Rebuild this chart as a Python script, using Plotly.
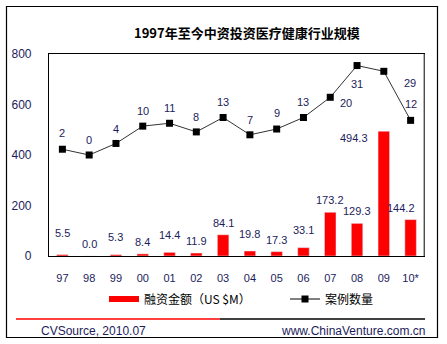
import plotly.graph_objects as go

# ---- data ----
years = ["97", "98", "99", "00", "01", "02", "03", "04", "05", "06", "07", "08", "09", "10*"]
amount = [5.5, 0.0, 5.3, 8.4, 14.4, 11.9, 84.1, 19.8, 17.3, 33.1, 173.2, 129.3, 494.3, 144.2]
cases = [2, 0, 4, 10, 11, 8, 13, 7, 9, 13, 20, 31, 29, 12]
y_ticks = [0, 200, 400, 600, 800]

# label offsets (pixels) for readability, as in the original
bar_lbl_dx = [0, 0, 0, 0, 0, 0, 0, 0, 0, 0, 0, 0, -30, -10]
bar_lbl_dy = [22, 12, 18, 12, 17, 12, 12, 17, 12, 18, 12, 12, -7, 12]
line_lbl_dx = [0, 0, 0, 0, 0, 0, 0, 0, 0, 0, 16, 0, 26, 0]
line_lbl_dy = [16, 15, 14, 15, 15, 15, 15, 15, 16, 15, -6, -18, -12, 16]

W, H = 447, 344
ML, MR, MT, MB = 49, 23, 54, 88
PW, PH = W - ML - MR, H - MT - MB


def px(x):
    return (x - ML) / PW


def py(y):
    return (H - MB - y) / PH


TXT = "#1c1c5c"
FONT = "Liberation Sans, Arial, Noto Sans CJK SC, sans-serif"
CJK = "Noto Sans CJK SC, sans-serif"

fig = go.Figure()
fig.add_trace(go.Bar(x=years, y=amount, marker_color="#ff0000", width=0.43,
                     showlegend=False, yaxis="y"))
fig.add_trace(go.Scatter(x=years, y=cases, mode="lines+markers", yaxis="y2",
                         line=dict(color="#333333", width=1),
                         marker=dict(symbol="square", size=7, color="#000000"),
                         showlegend=False))
# legend entries
fig.add_trace(go.Scatter(x=[years[0]], y=[None], mode="lines", name="融资金额（US $M）",
                         line=dict(color="#ff0000", width=6), legend="legend"))
fig.add_trace(go.Scatter(x=[years[0]], y=[None], mode="lines+markers", name="案例数量",
                         line=dict(color="#000000", width=1),
                         marker=dict(symbol="square", size=7, color="#000000"),
                         legend="legend2"))

annotations = []
for i, v in enumerate(amount):
    annotations.append(dict(x=i, y=v, xref="x", yref="y", text=f"{v:.1f}", showarrow=False,
                            xshift=bar_lbl_dx[i], yshift=bar_lbl_dy[i],
                            font=dict(size=11, color=TXT, family=FONT)))
for i, v in enumerate(cases):
    annotations.append(dict(x=i, y=v, xref="x", yref="y2", text=str(v), showarrow=False,
                            xshift=line_lbl_dx[i], yshift=line_lbl_dy[i],
                            font=dict(size=11, color=TXT, family=FONT)))
annotations.append(dict(x=px(247), y=py(33), xref="paper", yref="paper",
                        xanchor="center", yanchor="middle",
                        text="<b>1997年至今中资投资医疗健康行业规模</b>", showarrow=False,
                        font=dict(size=13, color="#000000", family=CJK)))
annotations.append(dict(x=px(39), y=py(331), xref="paper", yref="paper",
                        xanchor="left", yanchor="middle",
                        text="CVSource, 2010.07", showarrow=False,
                        font=dict(size=12, color=TXT, family=FONT)))
annotations.append(dict(x=px(427), y=py(331), xref="paper", yref="paper",
                        xanchor="right", yanchor="middle",
                        text="www.ChinaVenture.com.cn", showarrow=False,
                        font=dict(size=12, color=TXT, family=FONT)))

shapes = [
    dict(type="rect", xref="paper", yref="paper", x0=px(6.5), x1=px(437.5), y0=py(6.5), y1=py(337.5),
         line=dict(color="#000000", width=1.2)),
    dict(type="line", xref="paper", yref="paper", x0=px(16), x1=px(220), y0=py(319), y1=py(319),
         line=dict(color="#ff0000", width=1.5)),
    dict(type="line", xref="paper", yref="paper", x0=px(220), x1=px(425), y0=py(319), y1=py(319),
         line=dict(color="#000000", width=1.5)),
    dict(type="line", xref="paper", yref="paper", x0=1, x1=1, y0=0, y1=1,
         line=dict(color="#808080", width=1.2)),
]

leg_common = dict(orientation="h", xanchor="left", yanchor="middle", y=py(299),
                  font=dict(size=12, color="#000000", family=CJK), itemwidth=30,
                  bgcolor="rgba(0,0,0,0)")

fig.update_layout(
    width=W, height=H,
    margin=dict(l=ML, r=MR, t=MT, b=MB),
    paper_bgcolor="white", plot_bgcolor="white",
    font=dict(family=FONT, color=TXT, size=11),
    xaxis=dict(type="category", categoryorder="array", categoryarray=years,
               range=[-0.5, len(years) - 0.5], showgrid=False, showline=True,
               linecolor="#000000", linewidth=1.2,
               mirror=True, ticks="outside", ticklen=12, tickcolor="rgba(0,0,0,0)",
               tickfont=dict(size=11, color=TXT)),
    yaxis=dict(range=[0, 800], tickvals=y_ticks, showgrid=False, zeroline=False, showline=True,
               linecolor="#000000", linewidth=1.2, mirror=True, ticks="outside", ticklen=14,
               tickcolor="rgba(0,0,0,0)", tickfont=dict(size=12, color=TXT)),
    yaxis2=dict(range=[-35, 35], overlaying="y", side="right", visible=False),
    showlegend=True,
    legend=dict(x=px(104), **leg_common),
    legend2=dict(x=px(285), **leg_common),
    annotations=annotations,
    shapes=shapes,
)

fig.write_html("out.html")
